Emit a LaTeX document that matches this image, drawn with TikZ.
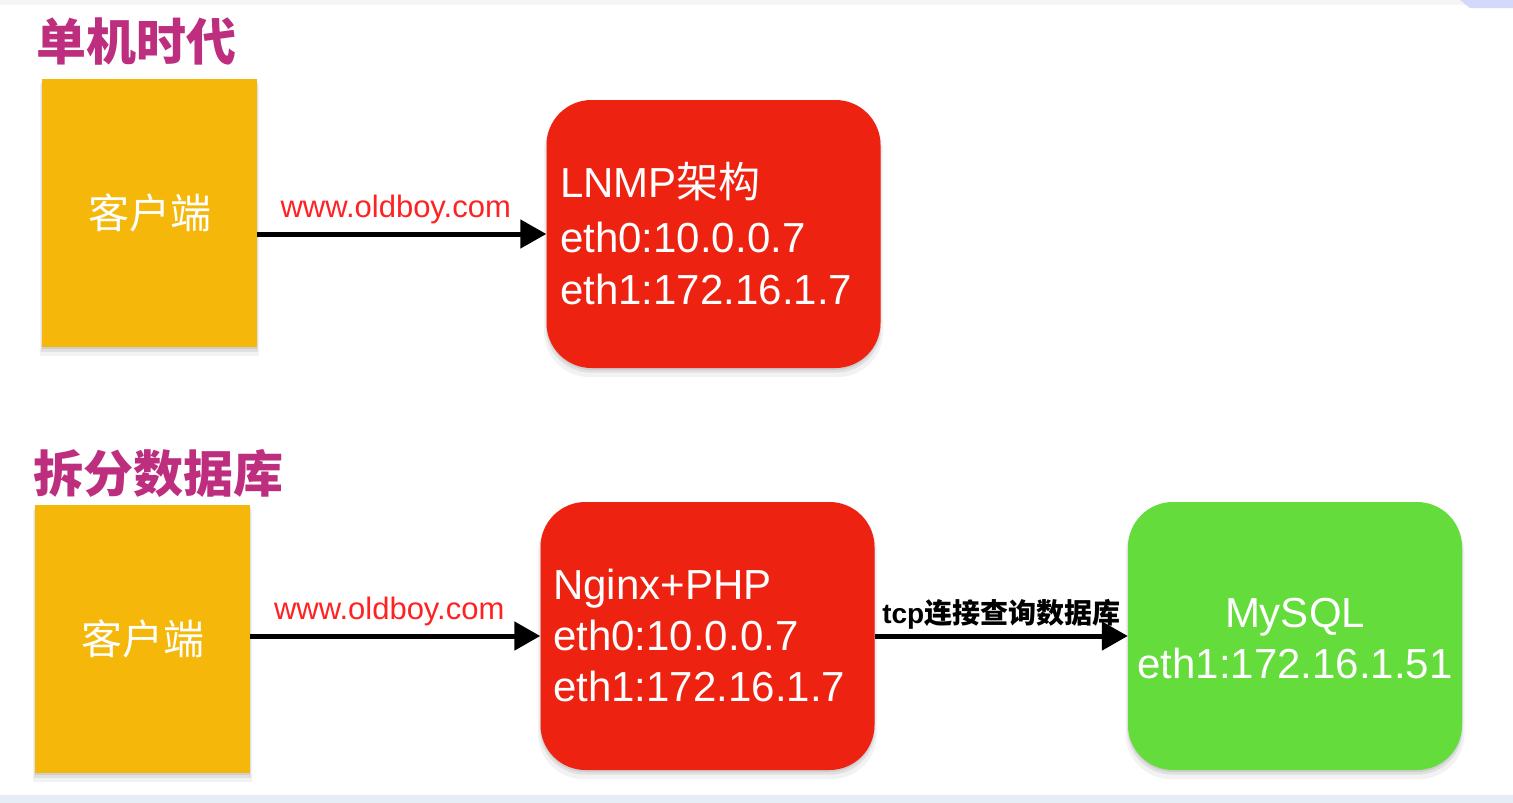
\documentclass[tikz,border=0pt]{standalone}
\usepackage{fontspec}
\setmainfont{Liberation Sans}
\newfontfamily\cjk{Noto Sans CJK SC}
\usetikzlibrary{arrows.meta,shadows}
\definecolor{clientc}{HTML}{F4B70A}
\definecolor{redc}{HTML}{EE2211}
\definecolor{greenc}{HTML}{64DC3C}
\definecolor{titlec}{HTML}{BD2F7E}
\definecolor{urlc}{HTML}{FF2222}
\definecolor{barc}{HTML}{E6EDF5}
\tikzset{
  shade1/.style={
    general shadow={fill=black,opacity=.05,shadow xshift=0pt,shadow yshift=-7pt,shadow scale=1.015},
    general shadow={fill=black,opacity=.07,shadow xshift=0pt,shadow yshift=-4pt,shadow scale=1.005},
    general shadow={fill=black,opacity=.08,shadow xshift=0pt,shadow yshift=-2pt}},
  clientbox/.style={fill=clientc,draw=none,minimum width=215pt,minimum height=268pt,inner sep=0pt,shade1,
    text=white,font=\cjk\fontsize{41}{48}\selectfont},
  serverbox/.style={draw=none,rounded corners=45pt,minimum width=334pt,minimum height=268pt,inner sep=0pt,shade1},
  whitetxt/.style={text=white,inner sep=0pt,anchor=base west,font=\fontsize{42}{50}\selectfont},
  titletxt/.style={text=titlec,inner sep=0pt,anchor=west,font=\cjk\bfseries\fontsize{50}{58}\selectfont},
  urltxt/.style={text=urlc,inner sep=0pt,font=\fontsize{31}{36}\selectfont},
  arr/.style={draw=black,line width=5pt,-{Triangle[length=26pt,width=28pt]}}
}
\begin{document}
\begin{tikzpicture}[x=1pt,y=-1pt]
\useasboundingbox (0,0) rectangle (1513,803);
\fill[white] (0,0) rectangle (1513,803);
\fill[barc] (0,795) rectangle (1513,803);
\fill[black!4] (0,0) rectangle (1513,5);
\fill[barc!80!blue!60] (1460,0) -- (1513,0) -- (1513,8) -- (1470,8) -- cycle;

% titles
\node[titletxt] (t1) at (36,42) {单机时代};
\node[titletxt] (t2) at (33,473) {拆分数据库};

% top row
\node[clientbox] (c1) at (149.5,213) {客户端};
\node[serverbox,fill=redc] (r1) at (713.5,234) {};
\node[whitetxt] (r1a) at (560,197) {LNMP{\cjk 架构}};
\node[whitetxt] (r1b) at (560,252) {eth0:10.0.0.7};
\node[whitetxt] (r1c) at (560,304) {eth1:172.16.1.7};
\draw[arr] (c1.east |- r1.west) -- (r1.west)
  node[urltxt,midway,above=8pt,xshift=-6pt] (u1) {www.oldboy.com};

% bottom row
\node[clientbox] (c2) at (142.5,639) {客户端};
\node[serverbox,fill=redc] (r2) at (707.5,636) {};
\node[whitetxt] (r2a) at (553,599) {Nginx+PHP};
\node[whitetxt] (r2b) at (553,650) {eth0:10.0.0.7};
\node[whitetxt] (r2c) at (553,701) {eth1:172.16.1.7};
\node[serverbox,fill=greenc] (g) at (1295,636) {};
\node[whitetxt,anchor=base] (ga) at (1295,627) {MySQL};
\node[whitetxt,anchor=base] (gb) at (1295,678) {eth1:172.16.1.51};
\draw[arr] (c2.east |- r2.west) -- (r2.west)
  node[urltxt,midway,above=8pt,xshift=-6pt] (u2) {www.oldboy.com};
\draw[arr] (r2.east) -- (g.west)
  node[midway,above=4pt,inner sep=0pt,font=\bfseries\fontsize{28}{32}\selectfont] (tcp) {tcp{\cjk 连接查询数据库}};
\end{tikzpicture}
\end{document}
